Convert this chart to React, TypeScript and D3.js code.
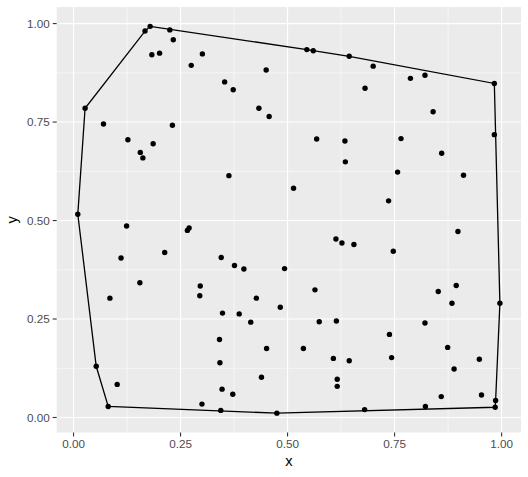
import * as d3 from "d3";
import { useEffect, useRef } from "react";

// point data
const xs = [
  0.027, 0.167, 0.179, 0.225, 0.233, 0.183, 0.201, 0.301, 0.275, 0.07, 0.231, 0.127, 0.186, 0.156,
  0.545, 0.56, 0.644, 0.45, 0.353, 0.373, 0.433, 0.457, 0.568, 0.634,
  0.7, 0.787, 0.821, 0.983, 0.681, 0.84, 0.983, 0.765, 0.86,
  0.162, 0.01, 0.124, 0.27, 0.266, 0.213, 0.111, 0.155, 0.296,
  0.363, 0.514, 0.635, 0.613, 0.627, 0.655, 0.345, 0.376, 0.398, 0.493, 0.564,
  0.757, 0.911, 0.736, 0.898, 0.747, 0.894, 0.852,
  0.085, 0.295, 0.053, 0.102, 0.081, 0.3,
  0.427, 0.348, 0.387, 0.483, 0.414, 0.574, 0.614, 0.341, 0.451, 0.537, 0.607, 0.644, 0.342, 0.439,
  0.616, 0.616, 0.347, 0.372, 0.344, 0.475,
  0.884, 0.996, 0.821, 0.738, 0.874, 0.743, 0.948, 0.889, 0.859, 0.953, 0.986, 0.985, 0.822, 0.68,
];
const ys = [
  0.785, 0.981, 0.993, 0.984, 0.959, 0.921, 0.925, 0.923, 0.894, 0.745, 0.742, 0.705, 0.695, 0.673,
  0.934, 0.931, 0.917, 0.882, 0.852, 0.832, 0.785, 0.764, 0.707, 0.702,
  0.892, 0.861, 0.869, 0.848, 0.836, 0.776, 0.718, 0.708, 0.671,
  0.659, 0.516, 0.486, 0.481, 0.475, 0.419, 0.405, 0.342, 0.334,
  0.614, 0.582, 0.649, 0.453, 0.443, 0.439, 0.406, 0.386, 0.377, 0.378, 0.324,
  0.623, 0.615, 0.55, 0.472, 0.422, 0.335, 0.32,
  0.303, 0.309, 0.13, 0.084, 0.028, 0.034,
  0.303, 0.265, 0.263, 0.28, 0.242, 0.243, 0.245, 0.198, 0.175, 0.175, 0.15, 0.144, 0.139, 0.102,
  0.097, 0.079, 0.072, 0.059, 0.018, 0.011,
  0.29, 0.29, 0.24, 0.211, 0.178, 0.152, 0.148, 0.123, 0.053, 0.057, 0.043, 0.026, 0.028, 0.02,
];
const breaks = [0, 0.25, 0.5, 0.75, 1];
const minorBreaks = [0.125, 0.375, 0.625, 0.875];

const W = 528;
const H = 477;
const panel = { left: 56.7, right: 521, top: 7, bottom: 432.5 };

const expand = (ext: [number, number]): [number, number] => {
  const r = ext[1] - ext[0];
  return [ext[0] - 0.05 * r, ext[1] + 0.05 * r];
};

export default function App() {
  const ref = useRef<SVGSVGElement | null>(null);

  useEffect(() => {
    if (!ref.current) return;
    const svg = d3.select(ref.current);
    svg.selectAll("*").remove();

    const pts: [number, number][] = xs.map((x, i) => [x, ys[i]]);
    const x = d3
      .scaleLinear()
      .domain(expand(d3.extent(xs) as [number, number]))
      .range([panel.left, panel.right]);
    const y = d3
      .scaleLinear()
      .domain(expand(d3.extent(ys) as [number, number]))
      .range([panel.bottom, panel.top]);

    svg
      .append("rect")
      .attr("x", panel.left)
      .attr("y", panel.top)
      .attr("width", panel.right - panel.left)
      .attr("height", panel.bottom - panel.top)
      .attr("fill", "#EBEBEB");

    const grid = svg.append("g").attr("stroke", "#fff");
    // minor grid
    minorBreaks.forEach((b) => {
      grid.append("line").attr("x1", x(b)).attr("x2", x(b)).attr("y1", panel.top).attr("y2", panel.bottom).attr("stroke-width", 0.55);
      grid.append("line").attr("y1", y(b)).attr("y2", y(b)).attr("x1", panel.left).attr("x2", panel.right).attr("stroke-width", 0.55);
    });
    breaks.forEach((b) => {
      grid.append("line").attr("x1", x(b)).attr("x2", x(b)).attr("y1", panel.top).attr("y2", panel.bottom).attr("stroke-width", 1.1);
      grid.append("line").attr("y1", y(b)).attr("y2", y(b)).attr("x1", panel.left).attr("x2", panel.right).attr("stroke-width", 1.1);
    });

    // convex hull
    const hull = d3.polygonHull(pts) || [];
    svg
      .append("path")
      .attr("d", d3.line().x((d) => x(d[0])).y((d) => y(d[1])).curve(d3.curveLinearClosed)(hull as [number, number][]))
      .attr("fill", "none")
      .attr("stroke", "#000")
      .attr("stroke-width", 1.3);

    svg
      .append("g")
      .selectAll("circle")
      .data(pts)
      .enter()
      .append("circle")
      .attr("cx", (d) => x(d[0]))
      .attr("cy", (d) => y(d[1]))
      .attr("r", 2.7)
      .attr("fill", "#000");

    const fmt = d3.format(".2f");
    const font = "'Liberation Sans', Arial, sans-serif";

    // x axis
    const xa = svg.append("g");
    breaks.forEach((b) => {
      xa.append("line").attr("x1", x(b)).attr("x2", x(b)).attr("y1", panel.bottom).attr("y2", panel.bottom + 4).attr("stroke", "#333").attr("stroke-width", 1.1);
      xa.append("text")
        .attr("x", x(b))
        .attr("y", panel.bottom + 15.5)
        .attr("text-anchor", "middle")
        .attr("font-family", font)
        .attr("font-size", 11.7)
        .attr("fill", "#4D4D4D")
        .text(fmt(b));
    });
    // y axis
    const ya = svg.append("g");
    breaks.forEach((b) => {
      ya.append("line").attr("x1", panel.left - 4).attr("x2", panel.left).attr("y1", y(b)).attr("y2", y(b)).attr("stroke", "#333").attr("stroke-width", 1.1);
      ya.append("text")
        .attr("x", panel.left - 7)
        .attr("y", y(b))
        .attr("dy", "0.35em")
        .attr("text-anchor", "end")
        .attr("font-family", font)
        .attr("font-size", 11.7)
        .attr("fill", "#4D4D4D")
        .text(fmt(b));
    });

    svg
      .append("text")
      .attr("x", (panel.left + panel.right) / 2)
      .attr("y", 466)
      .attr("text-anchor", "middle")
      .attr("font-family", font)
      .attr("font-size", 14.7)
      .attr("fill", "#000")
      .text("x");
    svg
      .append("text")
      .attr("transform", `translate(17,${(panel.top + panel.bottom) / 2}) rotate(-90)`)
      .attr("text-anchor", "middle")
      .attr("font-family", font)
      .attr("font-size", 14.7)
      .attr("fill", "#000")
      .text("y");
  }, []);

  return (
    <svg
      ref={ref}
      width={W}
      height={H}
      style={{ position: "absolute", left: 0, top: 0, background: "#fff" }}
    />
  );
}
